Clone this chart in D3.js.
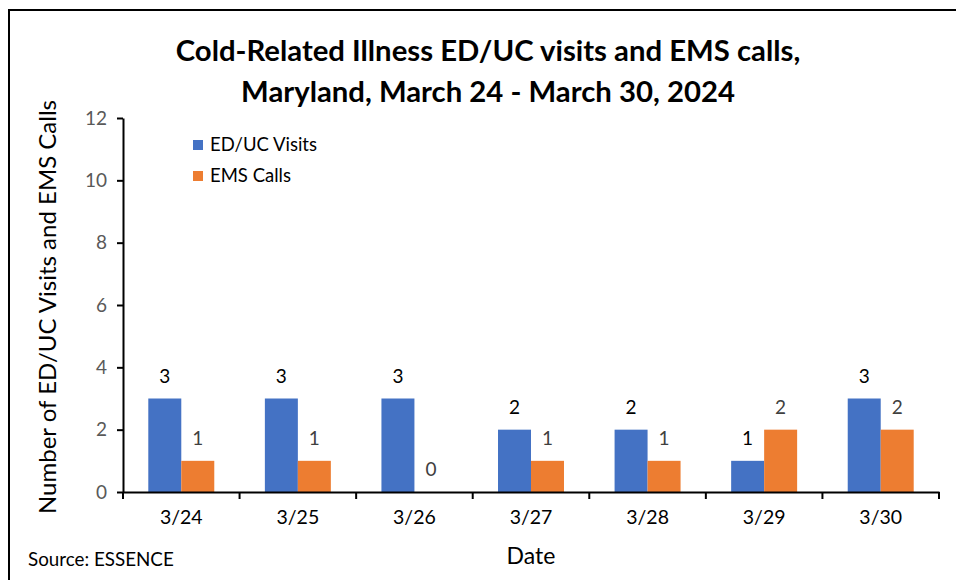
<!DOCTYPE html>
<html>
<head>
<meta charset="utf-8">
<script src="https://cdn.jsdelivr.net/npm/d3@7"></script>
<style>
  body { margin: 0; background: #fff; }
  svg text { font-family: "Lato", "Open Sans", sans-serif; }
  .axis path, .axis line { stroke: #000; stroke-width: 2px; }
</style>
</head>
<body>
<div id="chart"></div>
<script>
// chart data
var dates = ["3/24", "3/25", "3/26", "3/27", "3/28", "3/29", "3/30"];
var edVisits = [3, 3, 3, 2, 2, 1, 3];
var emsCalls = [1, 1, 0, 1, 1, 2, 2];
var seriesNames = ["ED/UC Visits", "EMS Calls"];
var seriesColors = ["#4472c4", "#ed7d31"];
var yTicks = [0, 2, 4, 6, 8, 10, 12];

var W = 956, H = 580;
var margin = {top: 118, right: 17, bottom: 88, left: 123};
var width = W - margin.left - margin.right;
var height = H - margin.top - margin.bottom;

var svgparent = d3.select("#chart").append("svg")
  .attr("width", W)
  .attr("height", H);

// outer frame
svgparent.append("rect")
  .attr("x", 9).attr("y", 10)
  .attr("width", W + 20).attr("height", H + 20)
  .attr("fill", "none")
  .attr("stroke", "#000")
  .attr("stroke-width", 2);

var svg = svgparent.append("g")
  .attr("transform", "translate(" + margin.left + "," + margin.top + ")");

var x = d3.scaleBand().domain(dates).range([0, width]).paddingInner(0).paddingOuter(0);
var x1 = d3.scaleBand().domain([0, 1]).range([x.bandwidth() * 0.217, x.bandwidth() * 0.783]);
var y = d3.scaleLinear().domain([0, 12]).range([height, 0]);

var rows = dates.map(function(d, i) {
  return {date: d, values: [edVisits[i], emsCalls[i]]};
});

// y axis
var yAxis = svg.append("g")
  .attr("class", "axis")
  .call(d3.axisLeft(y).tickValues(yTicks).tickSizeOuter(0).tickSizeInner(6).tickPadding(10));
yAxis.selectAll("text")
  .style("font-size", "19px")
  .style("fill", "#595959");

// bars
var groups = svg.selectAll("g.day")
  .data(rows)
  .enter().append("g")
  .attr("class", "day")
  .attr("transform", function(d) { return "translate(" + x(d.date) + ",0)"; });

groups.selectAll("rect")
  .data(function(d) { return d.values; })
  .enter().append("rect")
  .attr("x", function(d, i) { return x1(i); })
  .attr("width", x1.bandwidth())
  .attr("y", function(d) { return y(d); })
  .attr("height", function(d) { return height - y(d); })
  .attr("fill", function(d, i) { return seriesColors[i]; });

groups.selectAll("text.val")
  .data(function(d) { return d.values; })
  .enter().append("text")
  .attr("class", "val")
  .attr("x", function(d, i) { return x1(i) + x1.bandwidth() / 2; })
  .attr("y", function(d) { return y(d) - 16; })
  .attr("text-anchor", "middle")
  .style("font-size", "19px")
  .style("fill", function(d, i) { return i === 0 ? "#000" : "#404040"; })
  .text(function(d) { return d; });

// x axis
var xAxis = svg.append("g")
  .attr("class", "axis")
  .attr("transform", "translate(0," + height + ")")
  .call(d3.axisBottom(x).tickSize(0).tickPadding(18));
xAxis.selectAll("text")
  .style("font-size", "19.5px")
  .style("fill", "#000");
xAxis.selectAll(".bound")
  .data(d3.range(dates.length + 1))
  .enter().append("line")
  .attr("class", "bound")
  .attr("x1", function(i) { return i * x.bandwidth(); })
  .attr("x2", function(i) { return i * x.bandwidth(); })
  .attr("y1", 0).attr("y2", 7)
  .attr("stroke", "#000")
  .attr("stroke-width", 2);

// legend
var legend = svgparent.append("g").attr("transform", "translate(193,136)");
seriesNames.forEach(function(name, i) {
  var g = legend.append("g").attr("transform", "translate(0," + (i * 31) + ")");
  g.append("rect").attr("width", 10).attr("height", 10).attr("y", 4).attr("fill", seriesColors[i]);
  g.append("text").attr("x", 17).attr("y", 9).attr("dy", "0.35em")
    .style("font-size", "18.5px").style("fill", "#000").text(name);
});

// title
svgparent.append("text")
  .attr("x", 488).attr("y", 61)
  .attr("text-anchor", "middle")
  .style("font-size", "29.3px").style("font-weight", "bold")
  .text("Cold-Related Illness ED/UC visits and EMS calls,");
svgparent.append("text")
  .attr("x", 488).attr("y", 102)
  .attr("text-anchor", "middle")
  .style("font-size", "29.3px").style("font-weight", "bold")
  .text("Maryland, March 24 - March 30, 2024");

// axis titles
svgparent.append("text")
  .attr("transform", "translate(56,307) rotate(-90)")
  .attr("text-anchor", "middle")
  .style("font-size", "24px")
  .text("Number of ED/UC Visits and EMS Calls");

svgparent.append("text")
  .attr("x", 531).attr("y", 564)
  .attr("text-anchor", "middle")
  .style("font-size", "23px")
  .text("Date");

svgparent.append("text")
  .attr("x", 28).attr("y", 566)
  .style("font-size", "18.8px")
  .text("Source: ESSENCE");
</script>
</body>
</html>
